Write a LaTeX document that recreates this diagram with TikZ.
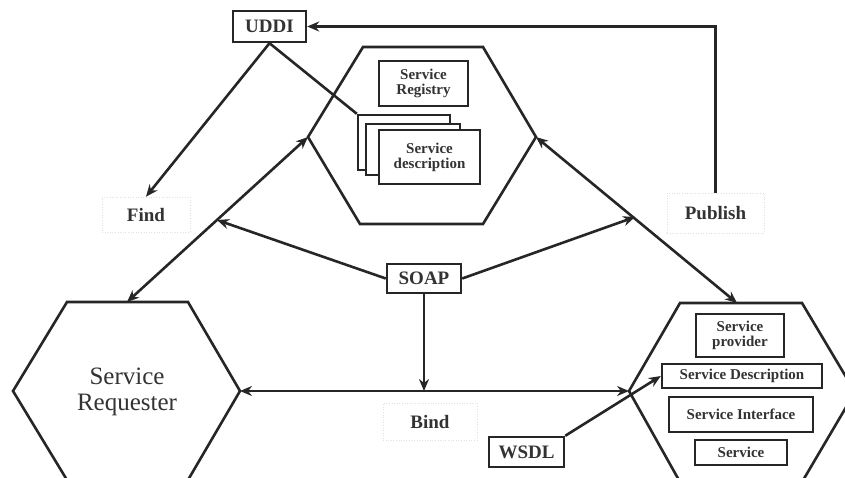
\documentclass[tikz,border=0pt]{standalone}
\usepackage{fontspec}
\setmainfont{Liberation Serif}
\usetikzlibrary{arrows.meta}
\begin{document}
\begin{tikzpicture}[x=1pt,y=-1pt,
  ln/.style={line width=2.6pt, draw=black!85},
  arr/.style={ln, -{Stealth[length=12pt,width=10pt]}},
  darr/.style={ln, {Stealth[length=12pt,width=10pt]}-{Stealth[length=12pt,width=10pt]}},
  hex/.style={line width=2.6pt, draw=black!85, fill=white, line join=miter},
  box/.style={draw=black!85, line width=2.4pt, fill=white, inner sep=0pt},
  lbl/.style={font=\fontsize{19}{22}\selectfont\bfseries, text=black!80},
  small/.style={font=\fontsize{15}{15}\selectfont\bfseries, text=black!80, align=center},
  ghost/.style={draw=black!12, dotted, line width=0.6pt, inner sep=0pt, font=\fontsize{19}{22}\selectfont\bfseries, text=black!80}
]
\useasboundingbox (0,0) rectangle (845,477);

% hexagon vertices
\coordinate (th1) at (363,47); \coordinate (th2) at (483,47);
\coordinate (thr) at (536,137); \coordinate (th4) at (483,224);
\coordinate (th5) at (360,224); \coordinate (thl) at (308,137);

\coordinate (rq1) at (67,302); \coordinate (rq2) at (188,302);
\coordinate (rqr) at (240,391); \coordinate (rq4) at (188,480);
\coordinate (rq5) at (67,480); \coordinate (rql) at (13,391);
\coordinate (rqt) at (127,302);

\coordinate (pv1) at (680,303); \coordinate (pv2) at (802,303);
\coordinate (pvr) at (855,392); \coordinate (pv4) at (802,482);
\coordinate (pv5) at (680,482); \coordinate (pvl) at (629,391);
\coordinate (pvt) at (737,303);

\draw[hex] (th1) -- (th2) -- (thr) -- (th4) -- (th5) -- (thl) -- cycle;
\draw[hex] (rq1) -- (rq2) -- (rqr) -- (rq4) -- (rq5) -- (rql) -- cycle;
\draw[hex] (pv1) -- (pv2) -- (pvr) -- (pv4) -- (pv5) -- (pvl) -- cycle;

\node[font=\fontsize{25}{26}\selectfont, text=black!80, align=center] (rq) at (127,392) {Service\\Requester};

% boxes
\node[box, lbl, minimum width=73pt, minimum height=31pt] (uddi) at (269.5,26.5) {UDDI};
\node[box, small, minimum width=89pt, minimum height=45pt] (reg) at (423.5,83.5) {Service\\Registry};
\node[box, minimum width=92pt, minimum height=55pt] (back) at (404,142.5) {};
\node[box, minimum width=94pt, minimum height=51pt] (mid) at (413,149.5) {};
\node[box, small, minimum width=101pt, minimum height=54pt] (desc) at (429.5,157) {Service\\description};
\node[box, lbl, minimum width=74pt, minimum height=29pt] (soap) at (424,278.5) {SOAP};
\node[box, lbl, minimum width=75pt, minimum height=30pt] (wsdl) at (526.5,452) {WSDL};
\node[box, small, minimum width=88pt, minimum height=43pt] (sp) at (740,335.5) {Service\\provider};
\node[box, small, minimum width=160pt, minimum height=24pt] (sd) at (742,376) {Service Description};
\node[box, small, minimum width=144pt, minimum height=35pt] (si) at (741,414.5) {Service Interface};
\node[box, small, minimum width=92pt, minimum height=25pt] (sv) at (741,452.5) {Service};

% labels
\node[ghost, minimum width=88pt, minimum height=35pt] (find) at (146,214.5) {Find};
\node[ghost, minimum width=94pt, minimum height=37pt] (bind) at (430,421.5) {Bind};
\node[ghost, minimum width=97pt, minimum height=40pt] (pub) at (715.5,213) {Publish};

% connector end points on lines
\coordinate (sl) at (217,220);
\coordinate (sr) at (635,217);
\coordinate (sb) at (424,391);

% connectors
\draw[arr] (uddi.south) -- (find.north);
\draw[ln] (uddi.south) -- (back.north west);
\draw[darr] (rqt) -- (thl);
\draw[darr] (thr) -- (pvt);
\draw[darr] (rqr) -- (pvl);
\draw[arr] (soap.west) -- (sl);
\draw[arr] (soap.east) -- (sr);
\draw[arr] (soap.south) -- (sb);
\draw[arr] (wsdl.north east) -- (sd.west);
\draw[arr, line join=miter] (pub.north) |- (uddi.east);
\end{tikzpicture}
\end{document}
